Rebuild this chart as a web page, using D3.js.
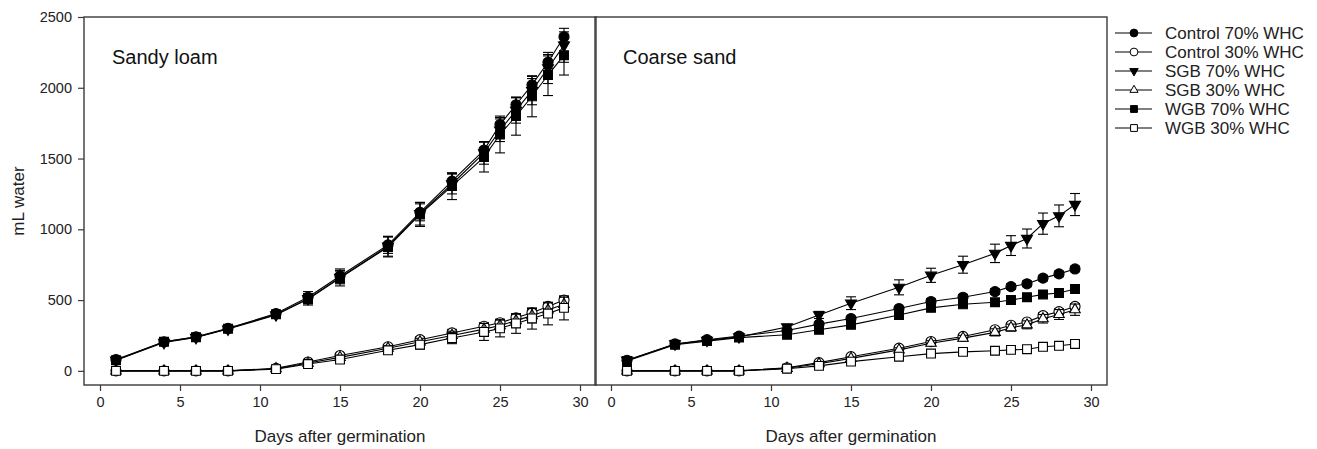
<!DOCTYPE html>
<html><head><meta charset="utf-8">
<script src="https://cdn.jsdelivr.net/npm/d3@7"></script>
<style>
html,body{margin:0;padding:0;background:#fff;}
svg{display:block;font-family:"Liberation Sans",Arial,sans-serif;}
</style></head>
<body>
<svg id="chart" width="1317" height="449"></svg>
<script>
// ---- data ----
const days = [1,4,6,8,11,13,15,18,20,22,24,25,26,27,28,29];
const seriesNames = ["Control 70% WHC","Control 30% WHC","SGB 70% WHC","SGB 30% WHC","WGB 70% WHC","WGB 30% WHC"];
const panelTitles = ["Sandy loam","Coarse sand"];
const yTicks = [0,500,1000,1500,2000,2500];
const xTicks = [0,5,10,15,20,25,30];

// Sandy loam means
const sandyControl70 = [80,205,240,300,405,520,670,890,1120,1340,1560,1740,1880,2020,2180,2360];
const sandyControl30 = [0,0,0,0,18,62,108,170,220,268,315,340,375,410,455,500];
const sandySGB70     = [75,200,235,295,395,510,660,880,1110,1320,1540,1700,1840,1980,2140,2300];
const sandySGB30     = [0,0,0,0,15,55,95,160,205,250,295,320,355,390,430,470];
const sandyWGB70     = [75,205,238,298,400,505,655,875,1105,1305,1510,1670,1800,1940,2090,2230];
const sandyWGB30     = [0,0,0,0,12,48,80,145,185,232,275,300,335,370,405,445];
// Sandy loam errors
const sandyControl70Err = [10,15,15,15,20,40,50,60,60,55,60,50,50,45,45,35];
const sandyControl30Err = [2,2,2,2,5,8,12,15,20,25,25,25,25,25,25,25];
const sandySGB70Err     = [10,15,15,15,20,35,45,70,80,70,80,80,90,100,110,120];
const sandySGB30Err     = [2,2,2,2,5,8,12,18,25,30,40,40,45,50,50,50];
const sandyWGB70Err     = [8,15,15,20,25,40,55,70,85,95,105,130,135,145,145,140];
const sandyWGB30Err     = [2,2,2,2,5,10,15,20,30,40,60,60,70,75,80,85];

// Coarse sand means
const coarseControl70 = [75,190,220,245,285,330,370,440,490,520,560,595,615,655,685,720];
const coarseControl30 = [0,0,0,0,22,58,100,160,207,243,290,322,345,390,418,455];
const coarseSGB70     = [75,190,215,240,310,395,478,590,675,750,830,885,935,1040,1095,1175];
const coarseSGB30     = [0,0,0,0,18,50,88,148,195,231,272,305,325,368,398,432];
const coarseWGB70     = [70,185,210,235,255,290,325,395,445,470,485,500,520,540,550,578];
const coarseWGB30     = [0,0,0,0,15,35,65,100,122,134,142,148,153,170,177,190];
// Coarse sand errors
const coarseControl70Err = [8,10,10,10,12,15,15,15,20,20,20,20,20,20,20,20];
const coarseControl30Err = [2,2,2,2,5,8,10,12,15,15,15,15,15,20,20,20];
const coarseSGB70Err     = [8,10,10,12,15,25,45,53,50,60,65,70,67,75,77,78];
const coarseSGB30Err     = [2,2,2,2,5,8,10,15,18,20,25,25,28,30,35,40];
const coarseWGB70Err     = [8,10,10,10,12,15,15,15,15,15,15,15,15,15,15,15];
const coarseWGB30Err     = [2,2,2,2,4,6,8,10,10,10,12,12,12,18,18,20];

const panelsData = [
  {means:[sandyControl70,sandyControl30,sandySGB70,sandySGB30,sandyWGB70,sandyWGB30],
   errs:[sandyControl70Err,sandyControl30Err,sandySGB70Err,sandySGB30Err,sandyWGB70Err,sandyWGB30Err]},
  {means:[coarseControl70,coarseControl30,coarseSGB70,coarseSGB30,coarseWGB70,coarseWGB30],
   errs:[coarseControl70Err,coarseControl30Err,coarseSGB70Err,coarseSGB30Err,coarseWGB70Err,coarseWGB30Err]}
];

// ---- styles ----
const symbolTypes = [d3.symbolCircle,d3.symbolCircle,d3.symbolTriangle,d3.symbolTriangle,d3.symbolSquare,d3.symbolSquare];
const symbolRot = [0,0,180,0,0,0];
const filled = [true,false,true,false,true,false];
const symSize = [80,80,52,48,78,78];

const svg = d3.select("#chart");
const plotTop = 17, plotBottom = 385;
const panelX = [[84,596],[595,1107]];
const y = d3.scaleLinear().domain([-100,2500]).range([plotBottom,plotTop]);
const frameColor = "#3a3a3a";
const textColor = "#222";

panelX.forEach((rng,pi)=>{
  const x = d3.scaleLinear().domain([-1,31]).range(rng);
  const g = svg.append("g");

  // x axis
  const xa = g.append("g").attr("transform",`translate(0,${plotBottom})`)
    .call(d3.axisBottom(x).tickValues(xTicks).tickFormat(d3.format("d")).tickSize(6).tickSizeOuter(0).tickPadding(6));
  xa.select(".domain").remove();
  xa.selectAll("line").attr("stroke",frameColor).attr("stroke-width",1.2);
  xa.selectAll("text").attr("font-size",14.5).attr("fill",textColor).attr("font-family","Liberation Sans, Arial, sans-serif");

  if(pi===0){
    const ya = g.append("g").attr("transform",`translate(${rng[0]},0)`)
      .call(d3.axisLeft(y).tickValues(yTicks).tickFormat(d3.format("d")).tickSize(6).tickSizeOuter(0).tickPadding(6));
    ya.select(".domain").remove();
    ya.selectAll("line").attr("stroke",frameColor).attr("stroke-width",1.2);
    ya.selectAll("text").attr("font-size",14.5).attr("fill",textColor).attr("font-family","Liberation Sans, Arial, sans-serif");
  }

  // frame
  g.append("rect").attr("x",rng[0]).attr("y",plotTop).attr("width",rng[1]-rng[0]).attr("height",plotBottom-plotTop)
    .attr("fill","none").attr("stroke",frameColor).attr("stroke-width",1.4);

  // x label
  g.append("text").attr("x",(rng[0]+rng[1])/2).attr("y",442).attr("text-anchor","middle")
    .attr("font-size",17).attr("fill",textColor).text("Days after germination");

  // panel title
  g.append("text").attr("x",x(0.75)).attr("y",64).attr("font-size",20).attr("fill","#111").text(panelTitles[pi]);

  const pd = panelsData[pi];
  const line = d3.line().x((d,i)=>x(days[i])).y(d=>y(d));
  pd.means.forEach((vals,si)=>{
    const sg = g.append("g");
    const errs = pd.errs[si];
    // error bars
    vals.forEach((v,i)=>{
      const cx = x(days[i]);
      const y1 = y(v+errs[i]), y2 = y(v-errs[i]);
      sg.append("line").attr("x1",cx).attr("x2",cx).attr("y1",y1).attr("y2",y2).attr("stroke","#000").attr("stroke-width",1.1);
      [y1,y2].forEach(yy=>sg.append("line").attr("x1",cx-5).attr("x2",cx+5).attr("y1",yy).attr("y2",yy).attr("stroke","#000").attr("stroke-width",1.1));
    });
    sg.append("path").datum(vals).attr("d",line).attr("fill","none").attr("stroke","#000").attr("stroke-width",1.1);
    const sym = d3.symbol().type(symbolTypes[si]).size(symSize[si]);
    sg.selectAll(".m").data(vals).enter().append("path")
      .attr("d",sym)
      .attr("transform",(d,i)=>`translate(${x(days[i])},${y(d)}) rotate(${symbolRot[si]})`)
      .attr("fill",filled[si]?"#000":"#fff").attr("stroke","#000").attr("stroke-width",1.1);
  });
});

// legend
const legY0 = 33, legDy = 19;
const lg = svg.append("g");
seriesNames.forEach((name,si)=>{
  const yy = legY0 + si*legDy;
  lg.append("line").attr("x1",1115).attr("x2",1152).attr("y1",yy).attr("y2",yy).attr("stroke","#000").attr("stroke-width",1.1);
  const sym = d3.symbol().type(symbolTypes[si]).size(symSize[si]*0.6);
  lg.append("path").attr("d",sym).attr("transform",`translate(1134,${yy}) rotate(${symbolRot[si]})`)
    .attr("fill",filled[si]?"#000":"#fff").attr("stroke","#000").attr("stroke-width",1);
  lg.append("text").attr("x",1165).attr("y",yy+6).attr("font-size",17).attr("fill",textColor).text(name);
});

// y label
svg.append("text").attr("transform",`translate(24,${(plotTop+plotBottom)/2}) rotate(-90)`).attr("text-anchor","middle")
  .attr("font-size",17).attr("fill",textColor).text("mL water");
</script>
</body></html>
